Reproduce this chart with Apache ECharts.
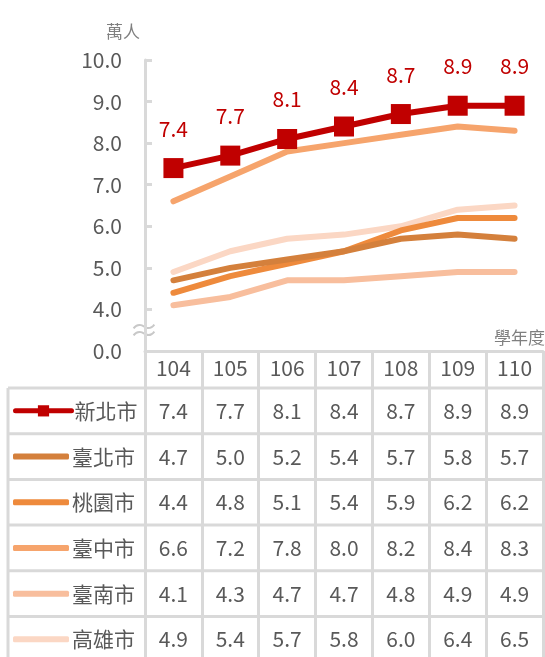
<!DOCTYPE html>
<html>
<head>
<meta charset="utf-8">
<script src="https://cdn.jsdelivr.net/npm/echarts@6/dist/echarts.min.js"></script>
<style>
  html, body { margin: 0; padding: 0; background: #fff; }
  #main { width: 545px; height: 657px; }
</style>
</head>
<body>
<div id="main"></div>
<script>
// 學年度
const years = ['104', '105', '106', '107', '108', '109', '110']
const cities = ['新北市', '臺北市', '桃園市', '臺中市', '臺南市', '高雄市']
// 萬人
const newTaipei = [7.4, 7.7, 8.1, 8.4, 8.7, 8.9, 8.9]
const taipei = [4.7, 5.0, 5.2, 5.4, 5.7, 5.8, 5.7]
const taoyuan = [4.4, 4.8, 5.1, 5.4, 5.9, 6.2, 6.2]
const taichung = [6.6, 7.2, 7.8, 8.0, 8.2, 8.4, 8.3]
const tainan = [4.1, 4.3, 4.7, 4.7, 4.8, 4.9, 4.9]
const kaohsiung = [4.9, 5.4, 5.7, 5.8, 6.0, 6.4, 6.5]
// 軸刻度 (3 代表斷軸下的 0.0)
const yTickLabels = ['0.0', '4.0', '5.0', '6.0', '7.0', '8.0', '9.0', '10.0']

const seriesData = [newTaipei, taipei, taoyuan, taichung, tainan, kaohsiung]
const colors = ['#c00000', '#d4803c', '#ee8a3c', '#f6a46c', '#f8be9d', '#fbd7c4']

const FONT = "'Noto Sans CJK TC', sans-serif"
const TXT = '#595959'
const LINE_COLOR = '#d9d9d9'
const GRID_LEFT = 145
const GRID_TOP = 60
const AXIS_Y = 351
const TABLE_TOP = 388
const ROW_H = 45.7
const TABLE_LEFT = 8
const TABLE_RIGHT = 543

let myChart = echarts.init(document.getElementById('main'))

let option = {
  animation: false,
  textStyle: { fontFamily: FONT },
  grid: { left: GRID_LEFT, right: 545 - TABLE_RIGHT, top: GRID_TOP, height: AXIS_Y - GRID_TOP },
  legend: cities.map(function (c, i) {
    return {
      data: [i === 0 ? { name: c } : { name: c, icon: 'roundRect' }],
      left: 13,
      top: TABLE_TOP + i * ROW_H + ROW_H / 2 - 10.5,
      padding: 0,
      itemWidth: 56,
      itemHeight: i === 0 ? 14 : 6,
      itemGap: 0,
      selectedMode: false,
      lineStyle: { width: 5 },
      textStyle: { fontSize: 21, color: TXT, fontFamily: FONT, lineHeight: 21, padding: [0, 0, 0, -2] }
    }
  }),
  xAxis: {
    type: 'category',
    data: years,
    boundaryGap: true,
    axisLine: { show: true, lineStyle: { color: LINE_COLOR, width: 3 } },
    // 表格直線
    axisTick: { show: true, interval: 0, alignWithLabel: false, length: 657 - AXIS_Y, lineStyle: { color: LINE_COLOR, width: 3 } },
    axisLabel: { fontSize: 21, color: TXT, margin: 7, interval: 0 },
    splitLine: { show: false }
  },
  yAxis: {
    type: 'value',
    min: 3,
    max: 10,
    interval: 1,
    name: '萬人',
    nameLocation: 'end',
    nameGap: 20,
    nameTextStyle: { fontSize: 17, color: '#7f7f7f', align: 'right', padding: [0, 5, 0, 0] },
    axisLine: { show: true, lineStyle: { color: LINE_COLOR, width: 3 } },
    axisTick: { show: true, inside: true, length: 7, lineStyle: { color: LINE_COLOR, width: 3 } },
    axisLabel: {
      fontSize: 21,
      color: TXT,
      margin: 23,
      formatter: function (v) { return yTickLabels[v - 3] }
    },
    splitLine: { show: false }
  },
  series: cities.map(function (c, i) {
    let s = {
      name: c,
      type: 'line',
      data: seriesData[i],
      z: 10 - i,
      color: colors[i],
      lineStyle: { width: 6, color: colors[i], cap: 'round', join: 'round' },
      symbol: 'none',
      showSymbol: false
    }
    if (i === 0) {
      s.z = 20
      s.symbol = 'rect'
      s.symbolSize = 20
      s.showSymbol = true
      s.itemStyle = { color: colors[0] }
      s.label = {
        show: true,
        position: 'top',
        distance: 19,
        fontSize: 21,
        color: colors[0],
        formatter: function (p) { return p.value.toFixed(1) }
      }
    }
    return s
  })
}
myChart.setOption(option)

// 表格:橫線、左框、數值
let graphics = []
for (let r = 0; r < cities.length; r++) {
  let y = TABLE_TOP + r * ROW_H
  graphics.push({
    type: 'line', silent: true,
    shape: { x1: TABLE_LEFT, y1: y, x2: TABLE_RIGHT, y2: y },
    style: { stroke: LINE_COLOR, lineWidth: 3 }
  })
  seriesData[r].forEach(function (v, c) {
    let x = myChart.convertToPixel({ xAxisIndex: 0 }, c)
    graphics.push({
      type: 'text', silent: true,
      x: x, y: y + ROW_H / 2,
      style: { text: v.toFixed(1), fill: TXT, font: '21px ' + FONT, align: 'center', verticalAlign: 'middle' }
    })
  })
}
graphics.push({
  type: 'line', silent: true,
  shape: { x1: TABLE_LEFT, y1: TABLE_TOP, x2: TABLE_LEFT, y2: 657 },
  style: { stroke: LINE_COLOR, lineWidth: 3 }
})
graphics.push({
  type: 'text', silent: true,
  x: 545, y: 338,
  style: { text: '學年度', fill: '#7f7f7f', font: '17px ' + FONT, align: 'right', verticalAlign: 'middle' }
})
// 斷軸符號
graphics.push({
  type: 'text', silent: true,
  x: GRID_LEFT - 1, y: 330,
  style: { text: '≈', fill: '#c8c8c8', font: '30px ' + FONT, align: 'center', verticalAlign: 'middle' }
})
myChart.setOption({ graphic: graphics })

window.addEventListener('resize', function () {
  myChart.resize()
})
</script>
</body>
</html>
